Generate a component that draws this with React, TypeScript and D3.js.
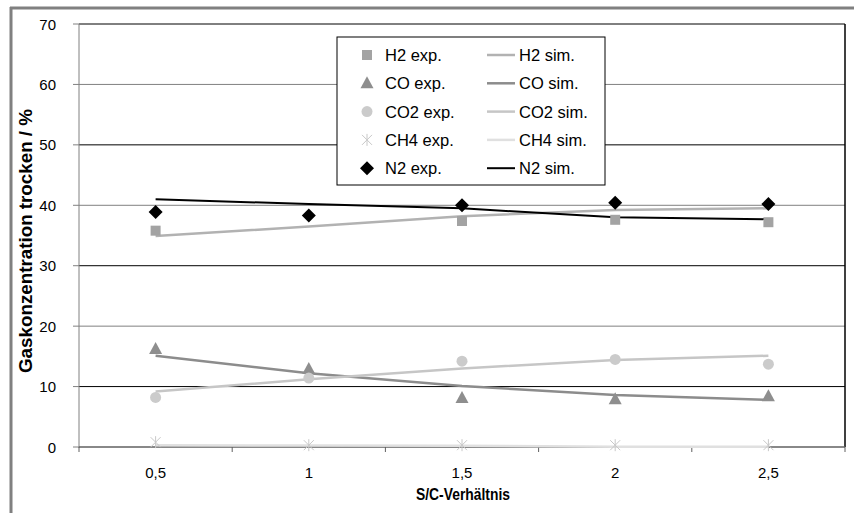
import React from 'react';
import * as d3 from 'd3';

const categories = ['0,5', '1', '1,5', '2', '2,5'];
const yTicks = [0, 10, 20, 30, 40, 50, 60, 70];

// H2 exp. at 1 is not visible in the figure (hidden / missing)
const h2Exp = [35.8, null, 37.4, 37.6, 37.2];
const coExp = [16.2, 12.9, 8.1, 7.9, 8.4];
const co2Exp = [8.2, 11.4, 14.2, 14.5, 13.7];
const ch4Exp = [0.8, 0.3, 0.3, 0.3, 0.3];
const n2Exp = [38.9, 38.3, 40.0, 40.4, 40.2];

const h2Sim = [34.9, 36.5, 38.2, 39.2, 39.5];
const coSim = [15.1, 12.2, 10.1, 8.6, 7.8];
const co2Sim = [9.2, 11.2, 13.0, 14.4, 15.1];
const ch4Sim = [0.3, 0.25, 0.2, 0.05, 0.05];
const n2Sim = [41.0, 40.2, 39.5, 38.0, 37.7];

const seriesNames = ['H2', 'CO', 'CO2', 'CH4', 'N2'];

const font = 'Liberation Sans, Arial, sans-serif';

const Marker = ({ kind, x, y, color }: { kind: string; x: number; y: number; color: string }) => {
    if (kind === 'square') return <rect x={x - 5} y={y - 5} width={10} height={10} fill={color} />;
    if (kind === 'triangle')
        return <path d={`M${x},${y - 7}L${x + 6.5},${y + 5}L${x - 6.5},${y + 5}Z`} fill={color} />;
    if (kind === 'circle') return <circle cx={x} cy={y} r={5.5} fill={color} />;
    if (kind === 'diamond')
        return <path d={`M${x},${y - 7}L${x + 7},${y}L${x},${y + 7}L${x - 7},${y}Z`} fill={color} />;
    // star (asterisk)
    return (
        <g stroke={color} strokeWidth={1}>
            <line x1={x - 5} y1={y - 5} x2={x + 5} y2={y + 5} />
            <line x1={x - 5} y1={y + 5} x2={x + 5} y2={y - 5} />
            <line x1={x} y1={y - 6} x2={x} y2={y + 6} />
        </g>
    );
};

const App = () => {
    const left = 79;
    const right = 845;
    const top = 24;
    const bottom = 447;

    const x = d3.scaleBand().domain(categories).range([left, right]).padding(0);
    const y = d3.scaleLinear().domain([0, 70]).range([bottom, top]);
    const cx = (i: number) => (x(categories[i]) as number) + x.bandwidth() / 2;

    const line = d3
        .line<number>()
        .x((_, i) => cx(i))
        .y(d => y(d));

    const expSeries = [
        { vals: h2Exp, kind: 'square', color: '#a3a3a3' },
        { vals: coExp, kind: 'triangle', color: '#8e8e8e' },
        { vals: co2Exp, kind: 'circle', color: '#cbcbcb' },
        { vals: ch4Exp, kind: 'star', color: '#c8c8c8' },
        { vals: n2Exp, kind: 'diamond', color: '#000000' },
    ];
    const simSeries = [
        { vals: h2Sim, color: '#b2b2b2', w: 2.5 },
        { vals: coSim, color: '#8c8c8c', w: 2.5 },
        { vals: co2Sim, color: '#c6c6c6', w: 2.5 },
        { vals: ch4Sim, color: '#e0e0e0', w: 2.5 },
        { vals: n2Sim, color: '#000000', w: 2 },
    ];

    const bounds = categories.map(c => x(c) as number).concat([right]);

    const legX = 337;
    const legY = 37;
    const rowH = 28.3;

    return (
        <svg width={854} height={513} style={{ position: 'absolute', left: 0, top: 0, background: '#fff' }}>
            {/* outer frame */}
            <line x1={10} x2={854} y1={8} y2={8} stroke="#808080" strokeWidth={3} />
            <line x1={11} x2={11} y1={7} y2={513} stroke="#808080" strokeWidth={3} />

            {/* gridlines */}
            {yTicks.slice(1).map((t, i) => (
                <line
                    key={t}
                    x1={left}
                    x2={right}
                    y1={y(t)}
                    y2={y(t)}
                    stroke={t === 70 ? '#000' : i % 2 === 0 ? '#000' : '#808080'}
                    strokeWidth={1}
                />
            ))}
            <line x1={right} x2={right} y1={top} y2={bottom} stroke="#000" strokeWidth={1.5} />

            {/* y axis */}
            <line x1={left} x2={left} y1={top} y2={bottom + 1} stroke="#808080" strokeWidth={1} />
            {yTicks.map(t => (
                <g key={t}>
                    <line x1={left - 6} x2={left} y1={y(t)} y2={y(t)} stroke="#808080" />
                    <text x={56} y={y(t) + 5.5} textAnchor="end" fontFamily={font} fontSize={15} fill="#000">
                        {t}
                    </text>
                </g>
            ))}

            {/* x axis */}
            <line x1={left} x2={right} y1={bottom} y2={bottom} stroke="#606060" strokeWidth={1.5} />
            {bounds.map((b, i) => (
                <line key={i} x1={b} x2={b} y1={bottom} y2={bottom + 5} stroke="#606060" />
            ))}
            {categories.map((c, i) => (
                <text key={c} x={cx(i)} y={bottom + 31} textAnchor="middle" fontFamily={font} fontSize={15} fill="#000">
                    {c}
                </text>
            ))}

            {/* sim lines */}
            {simSeries.map((s, i) => (
                <path key={i} d={line(s.vals) || ''} fill="none" stroke={s.color} strokeWidth={s.w} />
            ))}

            {/* exp markers */}
            {expSeries.map((s, i) => (
                <g key={i}>
                    {s.vals.map((v, j) =>
                        v == null ? null : <Marker key={j} kind={s.kind} x={cx(j)} y={y(v)} color={s.color} />
                    )}
                </g>
            ))}

            {/* axis titles */}
            <text
                x={463}
                y={500}
                textAnchor="middle"
                fontFamily={font}
                fontSize={16.5}
                fontWeight="bold"
                fill="#000"
                textLength={94}
                lengthAdjust="spacingAndGlyphs"
            >
                S/C-Verhältnis
            </text>
            <text
                transform={`translate(32, 241) rotate(-90)`}
                textAnchor="middle"
                fontFamily={font}
                fontSize={17.5}
                fontWeight="bold"
                fill="#000"
                textLength={264}
                lengthAdjust="spacingAndGlyphs"
            >
                Gaskonzentration trocken / %
            </text>

            {/* legend */}
            <rect x={legX} y={legY} width={268} height={148} fill="#fff" stroke="#000" strokeWidth={1} />
            {seriesNames.map((n, i) => {
                const ry = legY + 18 + i * rowH;
                return (
                    <g key={n}>
                        <Marker kind={expSeries[i].kind} x={367} y={ry} color={expSeries[i].color} />
                        <text x={385} y={ry + 6} fontFamily={font} fontSize={16.5} fill="#000">
                            {n} exp.
                        </text>
                        <line x1={487} x2={515} y1={ry} y2={ry} stroke={simSeries[i].color} strokeWidth={simSeries[i].w} />
                        <text x={519} y={ry + 6} fontFamily={font} fontSize={16.5} fill="#000">
                            {n} sim.
                        </text>
                    </g>
                );
            })}
        </svg>
    );
};

export default App;
